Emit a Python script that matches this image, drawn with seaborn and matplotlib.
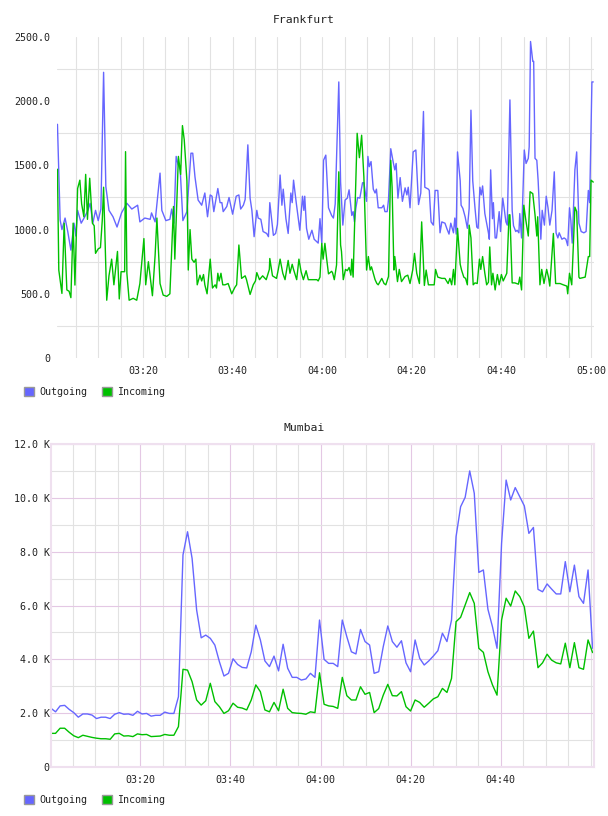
import numpy as np
import pandas as pd
import matplotlib
matplotlib.use("Agg")
import matplotlib.pyplot as plt
import matplotlib.dates as mdates
from matplotlib.patches import Patch
from matplotlib.ticker import FixedLocator
import seaborn as sns

# ---------------- data ----------------
series_names = ["Outgoing", "Incoming"]

# Frankfurt: minutes after 03:00 and values
fra_out_min = [
    0.9, 1.5, 1.9, 2.6, 3.2, 3.9, 4.6, 5.0, 5.4, 6.2,
    7.0, 7.7, 8.2, 8.8, 9.4, 10.0, 10.6, 11.2, 11.7, 12.4,
    13.3, 14.2, 15.2, 16.4, 17.5, 18.8, 19.3, 20.4, 21.6, 21.9,
    22.7, 23.8, 24.2, 25.1, 26.0, 26.4, 26.9, 27.4, 27.8, 28.3,
    28.9, 29.8, 30.7, 31.1, 31.6, 32.3, 33.1, 33.8, 34.4, 35.0,
    35.4, 35.8, 36.7, 37.2, 37.6, 37.9, 38.7, 39.2, 40.0, 40.8,
    41.4, 41.8, 42.4, 42.8, 43.4, 43.9, 44.3, 44.8, 45.4, 45.7,
    46.3, 46.8, 47.6, 48.0, 48.3, 49.1, 49.6, 50.0, 50.6, 51.0,
    51.3, 51.9, 52.4, 53.0, 53.3, 53.6, 54.2, 55.0, 55.6, 55.9,
    56.1, 56.5, 57.0, 57.7, 58.2, 59.1, 59.5, 59.9, 60.3, 60.8,
    61.4, 62.1, 62.5, 62.9, 63.7, 64.1, 64.6, 65.1, 65.6, 66.0,
    66.6, 66.9, 67.2, 67.5, 67.9, 68.4, 69.0, 69.3, 69.9, 70.2,
    70.5, 70.9, 71.4, 71.8, 72.1, 72.5, 73.3, 73.7, 74.0, 74.5,
    74.8, 75.3, 75.9, 76.2, 76.5, 76.9, 77.4, 77.9, 78.5, 78.9,
    79.2, 79.6, 80.3, 80.9, 81.5, 82.0, 82.6, 82.9, 83.7, 83.9,
    84.3, 84.8, 85.2, 85.8, 86.3, 86.7, 87.4, 87.8, 88.3, 88.7,
    89.3, 89.6, 89.9, 90.2, 90.8, 91.0, 91.4, 91.9, 92.4, 92.8,
    93.2, 93.6, 94.1, 94.5, 94.8, 95.2, 95.5, 95.8, 96.3, 97.1,
    97.3, 97.6, 98.0, 98.2, 98.6, 98.9, 99.5, 99.8, 100.3, 100.6,
    101.0, 101.3, 101.9, 102.4, 102.7, 103.2, 103.5, 103.9, 104.1, 104.5,
    105.1, 105.5, 106.0, 106.2, 106.5, 107.0, 107.2, 107.5, 107.9, 108.2,
    108.8, 109.1, 109.6, 110.0, 110.4, 110.8, 111.3, 111.8, 112.2, 112.6,
    112.9, 113.5, 114.0, 114.4, 114.8, 115.2, 115.5, 115.8, 116.4, 116.8,
    117.3, 117.8, 118.4, 118.9, 119.4, 119.7, 120.2, 120.5,
]
fra_out = [
    1820, 1075, 1000, 1090, 985, 840, 1050, 950, 1150, 1050,
    1100, 1150, 1205, 1050, 1150, 1070, 1160, 2225, 1335, 1150,
    1100, 1020, 1130, 1205, 1160, 1190, 1060, 1090, 1080, 1130,
    1060, 1440, 1150, 1070, 1080, 1160, 1050, 1570, 1510, 1465,
    1070, 1140, 1595, 1595, 1410, 1230, 1190, 1285, 1100, 1270,
    1260, 1140, 1320, 1210, 1210, 1140, 1180, 1250, 1120, 1260,
    1270, 1160, 1190, 1235, 1660, 1245, 1150, 945, 1150, 1090,
    1080, 985, 970, 945, 1210, 955, 970, 1040, 1425, 1190,
    1315, 1085, 970, 1285, 1210, 1385, 1210, 995, 1260, 1150,
    1260, 1010, 925, 995, 925, 895, 1085, 895, 1540, 1580,
    1170, 1110, 1090, 1200, 2150, 1370, 1035, 1230, 1245, 1310,
    1110, 1140, 1060, 1165, 1250, 1245, 1365, 1365, 1220, 1570,
    1490, 1530, 1315, 1285, 1315, 1170, 1170, 1190, 1140, 1140,
    1235, 1630, 1515, 1465, 1515, 1245, 1405, 1220, 1325, 1270,
    1330, 1170, 1605, 1620, 1195, 1285, 1920, 1330, 1315, 1305,
    1060, 1035, 1305, 1305, 975, 1060, 1050, 1010, 965, 1050,
    975, 1090, 965, 1605, 1380, 1190, 1165, 1100, 1010, 1165,
    1930, 1380, 1170, 1020, 1010, 1330, 1270, 1340, 1125, 975,
    925, 1465, 1085, 1210, 935, 935, 1140, 985, 1245, 1170,
    1060, 1035, 2010, 1150, 1030, 985, 995, 975, 1125, 935,
    1620, 1515, 1555, 1645, 2465, 2310, 2310, 1555, 1540, 1380,
    925, 1150, 1035, 1260, 1170, 1035, 1150, 1450, 975, 935,
    975, 925, 935, 925, 875, 1170, 1070, 895, 1465, 1605,
    1050, 985, 975, 985, 1305, 1210, 2150, 2150,
]
fra_in_min = [
    0.9, 1.2, 1.9, 2.4, 3.0, 3.5, 3.9, 4.4, 4.8, 5.4,
    5.9, 6.3, 6.8, 7.2, 7.6, 8.1, 8.7, 9.1, 9.4, 10.0,
    10.5, 10.9, 11.2, 11.9, 12.4, 13.0, 13.5, 14.3, 14.7, 15.1,
    15.9, 16.1, 16.4, 16.9, 17.8, 18.6, 19.3, 20.2, 20.6, 21.2,
    22.1, 22.7, 23.1, 23.8, 24.5, 25.3, 26.0, 26.8, 27.1, 27.9,
    28.4, 28.8, 29.2, 29.8, 30.1, 30.5, 30.9, 31.4, 31.8, 32.1,
    32.7, 33.1, 33.5, 33.8, 34.3, 35.0, 35.5, 36.1, 36.4, 36.7,
    37.0, 37.4, 37.8, 38.3, 39.0, 39.8, 40.5, 40.9, 41.4, 42.0,
    42.8, 43.1, 43.9, 44.6, 45.1, 45.4, 46.0, 46.7, 47.5, 48.2,
    48.3, 48.9, 49.8, 50.2, 50.6, 51.2, 51.7, 52.4, 52.8, 53.3,
    53.6, 54.3, 54.8, 55.0, 55.3, 55.8, 56.4, 56.9, 57.7, 58.2,
    58.8, 59.1, 59.5, 59.9, 60.2, 60.6, 61.0, 61.4, 62.1, 62.3,
    62.7, 63.2, 63.7, 64.1, 64.3, 64.7, 65.2, 65.6, 66.0, 66.4,
    66.6, 66.9, 67.3, 67.8, 68.3, 68.8, 69.3, 69.9, 70.3, 70.7,
    71.0, 71.8, 72.2, 72.5, 73.3, 73.8, 74.2, 74.8, 75.3, 75.6,
    76.0, 76.2, 76.8, 77.2, 77.7, 78.5, 79.1, 79.6, 80.2, 80.6,
    81.1, 81.7, 82.2, 82.8, 83.2, 83.7, 84.4, 85.0, 85.3, 85.8,
    86.7, 87.4, 88.1, 88.5, 88.9, 89.3, 89.6, 90.2, 90.8, 91.1,
    91.6, 92.0, 92.4, 92.8, 93.2, 93.7, 94.1, 94.6, 95.1, 95.4,
    95.8, 96.3, 96.7, 97.1, 97.4, 97.8, 98.1, 98.6, 99.1, 99.5,
    100.0, 100.4, 100.8, 101.2, 101.7, 101.9, 102.4, 103.0, 103.8, 104.1,
    104.5, 105.0, 105.4, 106.0, 106.4, 107.0, 107.5, 107.9, 108.1, 108.6,
    109.0, 109.5, 110.1, 110.5, 110.8, 111.6, 112.1, 113.1, 113.8, 114.6,
    114.8, 115.2, 115.7, 116.4, 116.8, 117.3, 117.5, 118.7, 119.4, 119.7,
    120.0, 120.5,
]
fra_in = [
    1470, 685, 503, 1050, 530, 520, 470, 1050, 568, 1320,
    1385, 1200, 1100, 1430, 1080, 1400, 1050, 1030, 815, 850,
    860, 1070, 1330, 450, 640, 770, 570, 830, 460, 672,
    672, 1607, 660, 450, 465, 450, 580, 930, 570, 750,
    485, 800, 1090, 580, 490, 480, 500, 1180, 770, 1570,
    1430, 1810, 1700, 1380, 685, 1000, 770, 745, 770, 570,
    645, 600, 650, 570, 500, 770, 545, 570, 545, 660,
    600, 660, 570, 570, 580, 500, 550, 570, 880, 620,
    640, 610, 495, 570, 600, 665, 610, 640, 610, 690,
    775, 640, 620, 690, 770, 660, 610, 760, 660, 730,
    690, 610, 770, 730, 670, 610, 680, 610, 610, 610,
    610, 600, 630, 893, 770, 893, 770, 655, 675, 665,
    610, 725, 1450, 880, 830, 610, 690, 680, 705, 645,
    770, 630, 1125, 1750, 1560, 1735, 1410, 685, 790, 685,
    710, 610, 580, 570, 620, 580, 570, 635, 1540, 1330,
    685, 790, 595, 690, 595, 635, 645, 580, 685, 815,
    660, 580, 1060, 565, 685, 570, 570, 570, 690, 630,
    620, 620, 580, 620, 570, 690, 570, 1010, 730, 685,
    630, 620, 570, 1035, 935, 570, 585, 580, 770, 690,
    790, 660, 570, 590, 865, 570, 660, 530, 650, 570,
    650, 600, 630, 660, 1115, 1115, 585, 585, 575, 630,
    530, 1190, 1085, 950, 1295, 1280, 1115, 950, 1100, 570,
    690, 580, 690, 630, 560, 970, 580, 580, 570, 560,
    500, 660, 570, 1175, 1140, 630, 620, 630, 790, 790,
    1385, 1370,
]

# Mumbai: one sample about every minute, values in thousands
mum_out = [
    2.18, 2.05, 2.27, 2.29, 2.14, 2.02, 1.85, 1.97, 1.97, 1.93,
    1.80, 1.85, 1.85, 1.80, 1.96, 2.02, 1.96, 1.97, 1.92, 2.07,
    1.97, 1.99, 1.89, 1.92, 1.92, 2.04, 1.99, 1.99, 2.61, 7.88,
    8.74, 7.75, 5.83, 4.80, 4.90, 4.78, 4.53, 3.91, 3.38, 3.48,
    4.02, 3.81, 3.70, 3.68, 4.28, 5.27, 4.72, 3.94, 3.73, 4.12,
    3.57, 4.56, 3.67, 3.33, 3.33, 3.23, 3.27, 3.48, 3.33, 5.46,
    4.00, 3.85, 3.85, 3.73, 5.46, 4.84, 4.28, 4.20, 5.11, 4.66,
    4.53, 3.48, 3.54, 4.47, 5.24, 4.66, 4.45, 4.69, 3.87, 3.54,
    4.72, 4.04, 3.79, 3.94, 4.12, 4.32, 4.97, 4.66, 5.46, 8.56,
    9.67, 10.02, 11.00, 10.17, 7.23, 7.32, 5.86, 5.21, 4.41, 8.31,
    10.66, 9.92, 10.38, 10.04, 9.70, 8.68, 8.90, 6.60, 6.51, 6.80,
    6.61, 6.43, 6.43, 7.63, 6.51, 7.50, 6.33, 6.08, 7.32, 4.41,
]
mum_in = [
    1.25, 1.25, 1.44, 1.44, 1.29, 1.16, 1.09, 1.18, 1.14, 1.10,
    1.07, 1.05, 1.05, 1.03, 1.23, 1.25, 1.15, 1.16, 1.13, 1.23,
    1.20, 1.21, 1.13, 1.14, 1.15, 1.21, 1.18, 1.18, 1.50, 3.63,
    3.60, 3.17, 2.49, 2.30, 2.46, 3.11, 2.43, 2.24, 1.99, 2.09,
    2.37, 2.22, 2.19, 2.12, 2.49, 3.05, 2.80, 2.12, 2.05, 2.40,
    2.09, 2.89, 2.18, 2.02, 2.00, 1.99, 1.96, 2.05, 2.02, 3.50,
    2.33, 2.27, 2.25, 2.18, 3.33, 2.65, 2.49, 2.49, 2.98, 2.70,
    2.77, 2.02, 2.17, 2.67, 3.07, 2.65, 2.64, 2.80, 2.24, 2.08,
    2.49, 2.40, 2.22, 2.37, 2.53, 2.61, 2.92, 2.77, 3.29, 5.40,
    5.56, 6.02, 6.48, 6.08, 4.41, 4.26, 3.54, 3.05, 2.67, 5.46,
    6.27, 5.98, 6.54, 6.33, 5.95, 4.78, 5.05, 3.69, 3.87, 4.19,
    3.97, 3.87, 3.83, 4.60, 3.69, 4.62, 3.69, 3.63, 4.72, 4.25,
]
mum_start = "03:00:10"
mum_step_seconds = 60.6

fra_xtick_labels = ["03:20", "03:40", "04:00", "04:20", "04:40", "05:00"]
mum_xtick_labels = ["03:20", "03:40", "04:00", "04:20", "04:40"]
fra_yticks = [0, 500, 1000, 1500, 2000, 2500]
fra_ytick_labels = ["0", "500.0", "1000.0", "1500.0", "2000.0", "2500.0"]
mum_yticks = [0, 2, 4, 6, 8, 10, 12]
mum_ytick_labels = ["0", "2.0 K", "4.0 K", "6.0 K", "8.0 K", "10.0 K", "12.0 K"]

# ---------------- styling ----------------
sns.set_theme(style="white")
plt.rcParams["font.family"] = ["DejaVu Sans Mono", "DejaVu Sans"]

BLUE = "#6666ff"
GREEN = "#00c000"
TXT = "#222222"
GRID = "#e2e2e2"
PINK = "#e4c8e4"
FRAME = "#efe0ef"
palette = {"Outgoing": BLUE, "Incoming": GREEN}
day = "2024-01-01 "
base = pd.Timestamp(day + "03:00:00")

def T(s):
    return pd.Timestamp(day + s)

fig = plt.figure(figsize=(6.08, 8.16), dpi=100)
W, H = 608.0, 816.0
ax1 = fig.add_axes([57 / W, 1 - 358 / H, (594 - 57) / W, (358 - 37) / H])
ax2 = fig.add_axes([51 / W, 1 - 767 / H, (594 - 51) / W, (767 - 444) / H])

# Frankfurt
fra_df = pd.concat([
    pd.DataFrame({"time": base + pd.to_timedelta(fra_out_min, unit="min"),
                  "value": fra_out, "series": "Outgoing"}),
    pd.DataFrame({"time": base + pd.to_timedelta(fra_in_min, unit="min"),
                  "value": fra_in, "series": "Incoming"}),
], ignore_index=True)
sns.lineplot(data=fra_df, x="time", y="value", hue="series", hue_order=series_names,
             palette=palette, estimator=None, sort=False, linewidth=1.0,
             legend=False, ax=ax1)

# Mumbai
mum_times = T(mum_start) + pd.to_timedelta(np.arange(len(mum_out)) * mum_step_seconds, unit="s")
mum_df = pd.concat([
    pd.DataFrame({"time": mum_times, "value": mum_out, "series": "Outgoing"}),
    pd.DataFrame({"time": mum_times, "value": mum_in, "series": "Incoming"}),
], ignore_index=True)
sns.lineplot(data=mum_df, x="time", y="value", hue="series", hue_order=series_names,
             palette=palette, estimator=None, sort=False, linewidth=1.0,
             legend=False, ax=ax2)

for ax in (ax1, ax2):
    ax.set_xlabel("")
    ax.set_ylabel("")
    ax.set_axisbelow(True)
    ax.xaxis.set_minor_locator(mdates.MinuteLocator(byminute=range(0, 60, 5)))
    ax.tick_params(axis="both", which="both", length=0, labelsize=7.2, colors=TXT)
    ax.tick_params(axis="x", pad=6)

# Frankfurt axis setup
ax1.set_xlim(base + pd.Timedelta(seconds=48), base + pd.Timedelta(minutes=120, seconds=40))
ax1.set_ylim(0, 2500)
ax1.set_xticks([T(s) for s in fra_xtick_labels])
ax1.set_xticklabels(fra_xtick_labels)
ax1.set_yticks(fra_yticks)
ax1.set_yticklabels(fra_ytick_labels)
ax1.yaxis.set_minor_locator(FixedLocator([250, 750, 1250, 1750, 2250]))
ax1.tick_params(axis="y", pad=5)
ax1.xaxis.grid(True, which="both", color=GRID, linewidth=0.8)
ax1.yaxis.grid(True, which="minor", color=GRID, linewidth=0.8)
ax1.yaxis.grid(False, which="major")
for sp in ax1.spines.values():
    sp.set_visible(False)

# Mumbai axis setup
ax2.set_xlim(T("03:00:10"), T("05:00:40"))
ax2.set_ylim(0, 12)
ax2.set_xticks([T(s) for s in mum_xtick_labels])
ax2.set_xticklabels(mum_xtick_labels)
ax2.set_yticks(mum_yticks)
ax2.set_yticklabels(mum_ytick_labels)
ax2.yaxis.set_minor_locator(FixedLocator([1, 3, 5, 7, 9, 11]))
ax2.tick_params(axis="y", pad=1)
ax2.xaxis.grid(True, which="minor", color=GRID, linewidth=0.8)
ax2.yaxis.grid(True, which="minor", color=GRID, linewidth=0.8)
ax2.xaxis.grid(True, which="major", color=PINK, linewidth=0.8)
ax2.yaxis.grid(True, which="major", color=PINK, linewidth=0.8)
for sp in ax2.spines.values():
    sp.set_visible(True)
    sp.set_color(FRAME)
    sp.set_linewidth(1.5)

# titles
fig.text(0.5, 1 - 20 / H, "Frankfurt", ha="center", va="center", fontsize=8.2, color=TXT)
fig.text(0.5, 1 - 428 / H, "Mumbai", ha="center", va="center", fontsize=8.2, color=TXT)

# legends
for ycen in (392, 800):
    handles = [Patch(facecolor=palette[n], edgecolor="#999999", linewidth=1.0) for n in series_names]
    fig.legend(handles, series_names, loc="center left",
               bbox_to_anchor=(24 / W, 1 - ycen / H), ncol=2, frameon=False,
               borderpad=0, borderaxespad=0, handletextpad=0.5, columnspacing=1.5,
               handlelength=1.0, handleheight=1.0, fontsize=7.2, labelcolor=TXT)

fig.savefig("out.png", dpi=100)
